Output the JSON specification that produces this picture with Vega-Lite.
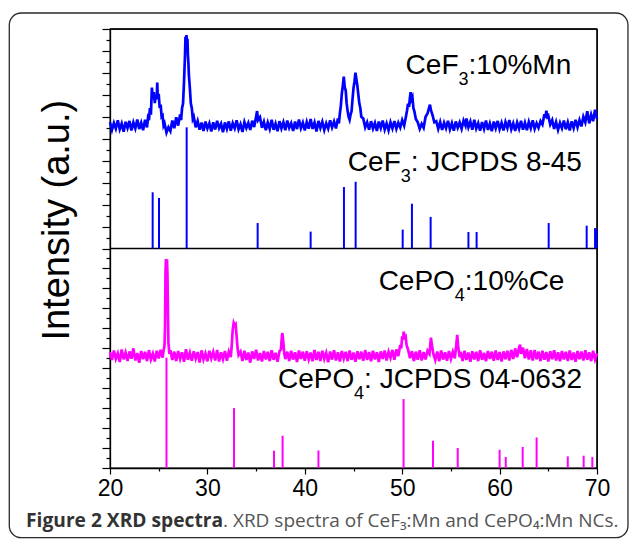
{
"$schema":"https://vega.github.io/schema/vega-lite/v6.json",
"width":487,"height":439,
"autosize":"none",
"padding":{"left":110,"top":29,"right":32,"bottom":72},
"background":"white",
"config":{"view":{"stroke":"black","strokeWidth":1.3},"font":"Liberation Sans"},
"datasets":{
"one":[{"k":"frame"}],
"top":[
{"x":20.0,"y":1.575},{"x":20.2,"y":1.540},{"x":20.4,"y":1.572},{"x":20.6,"y":1.546},{"x":20.8,"y":1.584},{"x":21.0,"y":1.543},{"x":21.2,"y":1.569},{"x":21.4,"y":1.532},{"x":21.6,"y":1.577},{"x":21.8,"y":1.549},
{"x":22.0,"y":1.581},{"x":22.2,"y":1.538},{"x":22.4,"y":1.574},{"x":22.6,"y":1.547},{"x":22.8,"y":1.588},{"x":23.0,"y":1.544},{"x":23.2,"y":1.573},{"x":23.4,"y":1.539},{"x":23.6,"y":1.586},{"x":23.8,"y":1.552},
{"x":23.9,"y":1.595},{"x":24.0,"y":1.585},{"x":24.1,"y":1.640},{"x":24.2,"y":1.610},{"x":24.3,"y":1.733},{"x":24.4,"y":1.680},{"x":24.5,"y":1.712},{"x":24.6,"y":1.662},{"x":24.7,"y":1.700},{"x":24.8,"y":1.680},
{"x":24.85,"y":1.756},{"x":24.9,"y":1.690},{"x":25.0,"y":1.705},{"x":25.1,"y":1.640},{"x":25.2,"y":1.655},{"x":25.3,"y":1.600},{"x":25.4,"y":1.605},{"x":25.5,"y":1.560},{"x":25.6,"y":1.570},{"x":25.8,"y":1.528},
{"x":26.0,"y":1.552},{"x":26.2,"y":1.535},{"x":26.4,"y":1.583},{"x":26.6,"y":1.548},{"x":26.8,"y":1.598},{"x":27.0,"y":1.560},{"x":27.2,"y":1.610},{"x":27.3,"y":1.585},{"x":27.4,"y":1.640},{"x":27.5,"y":1.660},
{"x":27.6,"y":1.760},{"x":27.7,"y":1.880},{"x":27.75,"y":1.965},{"x":27.8,"y":1.930},{"x":27.85,"y":1.972},{"x":27.9,"y":1.940},{"x":27.95,"y":1.955},{"x":28.0,"y":1.880},{"x":28.05,"y":1.845},{"x":28.1,"y":1.790},
{"x":28.2,"y":1.730},{"x":28.3,"y":1.660},{"x":28.4,"y":1.640},{"x":28.5,"y":1.590},{"x":28.6,"y":1.600},{"x":28.8,"y":1.552},{"x":29.0,"y":1.581},{"x":29.2,"y":1.541},{"x":29.4,"y":1.574},{"x":29.6,"y":1.536},
{"x":29.8,"y":1.578},{"x":30.0,"y":1.547},{"x":30.2,"y":1.570},{"x":30.4,"y":1.533},{"x":30.6,"y":1.575},{"x":30.8,"y":1.542},{"x":31.0,"y":1.582},{"x":31.2,"y":1.548},{"x":31.4,"y":1.568},{"x":31.6,"y":1.530},
{"x":31.8,"y":1.574},{"x":32.0,"y":1.545},{"x":32.2,"y":1.579},{"x":32.4,"y":1.537},{"x":32.6,"y":1.571},{"x":32.8,"y":1.548},{"x":33.0,"y":1.584},{"x":33.2,"y":1.543},{"x":33.4,"y":1.566},{"x":33.6,"y":1.531},
{"x":33.8,"y":1.576},{"x":34.0,"y":1.549},{"x":34.2,"y":1.572},{"x":34.4,"y":1.540},{"x":34.6,"y":1.582},{"x":34.8,"y":1.553},{"x":35.0,"y":1.600},{"x":35.1,"y":1.626},{"x":35.2,"y":1.585},{"x":35.4,"y":1.598},
{"x":35.6,"y":1.550},{"x":35.8,"y":1.577},{"x":36.0,"y":1.539},{"x":36.2,"y":1.574},{"x":36.4,"y":1.545},{"x":36.6,"y":1.586},{"x":36.8,"y":1.541},{"x":37.0,"y":1.569},{"x":37.2,"y":1.534},{"x":37.4,"y":1.580},
{"x":37.6,"y":1.547},{"x":37.8,"y":1.575},{"x":38.0,"y":1.539},{"x":38.2,"y":1.583},{"x":38.4,"y":1.550},{"x":38.6,"y":1.571},{"x":38.8,"y":1.536},{"x":39.0,"y":1.578},{"x":39.2,"y":1.544},{"x":39.4,"y":1.588},
{"x":39.6,"y":1.548},{"x":39.8,"y":1.573},{"x":40.0,"y":1.538},{"x":40.2,"y":1.576},{"x":40.4,"y":1.546},{"x":40.6,"y":1.590},{"x":40.8,"y":1.545},{"x":41.0,"y":1.574},{"x":41.2,"y":1.533},{"x":41.4,"y":1.581},
{"x":41.6,"y":1.549},{"x":41.8,"y":1.577},{"x":42.0,"y":1.540},{"x":42.2,"y":1.570},{"x":42.4,"y":1.546},{"x":42.6,"y":1.584},{"x":42.8,"y":1.552},{"x":43.0,"y":1.578},{"x":43.2,"y":1.547},{"x":43.4,"y":1.592},
{"x":43.5,"y":1.570},{"x":43.6,"y":1.615},{"x":43.7,"y":1.650},{"x":43.8,"y":1.705},{"x":43.9,"y":1.740},{"x":44.0,"y":1.783},{"x":44.1,"y":1.735},{"x":44.2,"y":1.720},{"x":44.3,"y":1.660},{"x":44.4,"y":1.625},
{"x":44.5,"y":1.600},{"x":44.6,"y":1.587},{"x":44.7,"y":1.610},{"x":44.8,"y":1.625},{"x":44.9,"y":1.680},{"x":45.0,"y":1.730},{"x":45.1,"y":1.760},{"x":45.2,"y":1.801},{"x":45.3,"y":1.770},{"x":45.4,"y":1.740},
{"x":45.5,"y":1.700},{"x":45.6,"y":1.660},{"x":45.7,"y":1.640},{"x":45.8,"y":1.600},{"x":46.0,"y":1.592},{"x":46.2,"y":1.552},{"x":46.4,"y":1.575},{"x":46.6,"y":1.541},{"x":46.8,"y":1.580},{"x":47.0,"y":1.546},
{"x":47.2,"y":1.572},{"x":47.4,"y":1.536},{"x":47.6,"y":1.578},{"x":47.8,"y":1.549},{"x":48.0,"y":1.583},{"x":48.2,"y":1.542},{"x":48.4,"y":1.570},{"x":48.6,"y":1.538},{"x":48.8,"y":1.575},{"x":49.0,"y":1.547},
{"x":49.2,"y":1.581},{"x":49.4,"y":1.545},{"x":49.6,"y":1.573},{"x":49.8,"y":1.551},{"x":50.0,"y":1.585},{"x":50.2,"y":1.560},{"x":50.4,"y":1.605},{"x":50.5,"y":1.630},{"x":50.6,"y":1.660},{"x":50.7,"y":1.645},
{"x":50.8,"y":1.690},{"x":50.87,"y":1.712},{"x":50.95,"y":1.680},{"x":51.05,"y":1.690},{"x":51.15,"y":1.640},{"x":51.25,"y":1.625},{"x":51.4,"y":1.590},{"x":51.6,"y":1.575},{"x":51.8,"y":1.545},{"x":52.0,"y":1.568},
{"x":52.2,"y":1.550},{"x":52.4,"y":1.600},{"x":52.6,"y":1.615},{"x":52.75,"y":1.640},{"x":52.85,"y":1.655},{"x":52.95,"y":1.630},{"x":53.1,"y":1.610},{"x":53.3,"y":1.575},{"x":53.5,"y":1.580},{"x":53.7,"y":1.545},
{"x":53.9,"y":1.576},{"x":54.1,"y":1.540},{"x":54.3,"y":1.573},{"x":54.5,"y":1.548},{"x":54.7,"y":1.582},{"x":54.9,"y":1.543},{"x":55.1,"y":1.571},{"x":55.3,"y":1.537},{"x":55.5,"y":1.579},{"x":55.7,"y":1.550},
{"x":55.9,"y":1.574},{"x":56.1,"y":1.545},{"x":56.3,"y":1.583},{"x":56.5,"y":1.560},{"x":56.6,"y":1.592},{"x":56.8,"y":1.552},{"x":57.0,"y":1.578},{"x":57.2,"y":1.541},{"x":57.4,"y":1.586},{"x":57.6,"y":1.547},
{"x":57.8,"y":1.571},{"x":58.0,"y":1.537},{"x":58.2,"y":1.576},{"x":58.4,"y":1.545},{"x":58.6,"y":1.583},{"x":58.8,"y":1.540},{"x":59.0,"y":1.569},{"x":59.2,"y":1.534},{"x":59.4,"y":1.578},{"x":59.6,"y":1.548},
{"x":59.8,"y":1.581},{"x":60.0,"y":1.544},{"x":60.2,"y":1.572},{"x":60.4,"y":1.538},{"x":60.6,"y":1.576},{"x":60.8,"y":1.549},{"x":61.0,"y":1.585},{"x":61.2,"y":1.543},{"x":61.4,"y":1.570},{"x":61.6,"y":1.536},
{"x":61.8,"y":1.574},{"x":62.0,"y":1.546},{"x":62.2,"y":1.582},{"x":62.4,"y":1.541},{"x":62.6,"y":1.573},{"x":62.8,"y":1.539},{"x":63.0,"y":1.577},{"x":63.2,"y":1.548},{"x":63.4,"y":1.584},{"x":63.6,"y":1.545},
{"x":63.8,"y":1.571},{"x":64.0,"y":1.550},{"x":64.2,"y":1.580},{"x":64.4,"y":1.565},{"x":64.6,"y":1.612},{"x":64.7,"y":1.595},{"x":64.8,"y":1.628},{"x":64.9,"y":1.600},{"x":65.0,"y":1.605},{"x":65.2,"y":1.565},
{"x":65.4,"y":1.585},{"x":65.6,"y":1.545},{"x":65.8,"y":1.576},{"x":66.0,"y":1.540},{"x":66.2,"y":1.572},{"x":66.4,"y":1.548},{"x":66.6,"y":1.583},{"x":66.8,"y":1.543},{"x":67.0,"y":1.575},{"x":67.2,"y":1.538},
{"x":67.4,"y":1.579},{"x":67.6,"y":1.549},{"x":67.8,"y":1.586},{"x":68.0,"y":1.552},{"x":68.2,"y":1.585},{"x":68.4,"y":1.556},{"x":68.6,"y":1.600},{"x":68.8,"y":1.575},{"x":69.0,"y":1.625},{"x":69.2,"y":1.570},
{"x":69.4,"y":1.610},{"x":69.6,"y":1.580},{"x":69.8,"y":1.632},{"x":70.0,"y":1.590}
],
"bot":[
{"x":20.0,"y":0.528},{"x":20.2,"y":0.492},{"x":20.4,"y":0.535},{"x":20.6,"y":0.497},{"x":20.8,"y":0.522},{"x":21.0,"y":0.483},{"x":21.2,"y":0.540},{"x":21.4,"y":0.495},{"x":21.6,"y":0.526},{"x":21.8,"y":0.488},
{"x":22.0,"y":0.531},{"x":22.2,"y":0.498},{"x":22.4,"y":0.545},{"x":22.6,"y":0.490},{"x":22.8,"y":0.524},{"x":23.0,"y":0.479},{"x":23.2,"y":0.533},{"x":23.4,"y":0.496},{"x":23.6,"y":0.529},{"x":23.8,"y":0.487},
{"x":24.0,"y":0.537},{"x":24.2,"y":0.494},{"x":24.4,"y":0.521},{"x":24.6,"y":0.485},{"x":24.8,"y":0.534},{"x":25.0,"y":0.499},{"x":25.2,"y":0.538},{"x":25.4,"y":0.503},{"x":25.5,"y":0.535},{"x":25.6,"y":0.560},
{"x":25.65,"y":0.640},{"x":25.7,"y":0.900},{"x":25.75,"y":0.952},{"x":25.8,"y":0.945},{"x":25.85,"y":0.950},{"x":25.9,"y":0.880},{"x":25.95,"y":0.700},{"x":26.0,"y":0.570},{"x":26.1,"y":0.520},{"x":26.2,"y":0.536},
{"x":26.4,"y":0.492},{"x":26.6,"y":0.530},{"x":26.8,"y":0.487},{"x":27.0,"y":0.533},{"x":27.2,"y":0.497},{"x":27.4,"y":0.527},{"x":27.6,"y":0.484},{"x":27.8,"y":0.541},{"x":28.0,"y":0.493},{"x":28.2,"y":0.525},
{"x":28.4,"y":0.489},{"x":28.6,"y":0.532},{"x":28.8,"y":0.498},{"x":29.0,"y":0.528},{"x":29.2,"y":0.481},{"x":29.4,"y":0.536},{"x":29.6,"y":0.494},{"x":29.8,"y":0.522},{"x":30.0,"y":0.486},{"x":30.2,"y":0.534},
{"x":30.4,"y":0.500},{"x":30.6,"y":0.529},{"x":30.8,"y":0.490},{"x":31.0,"y":0.538},{"x":31.2,"y":0.485},{"x":31.4,"y":0.527},{"x":31.6,"y":0.496},{"x":31.8,"y":0.533},{"x":32.0,"y":0.489},{"x":32.2,"y":0.530},
{"x":32.4,"y":0.505},{"x":32.5,"y":0.560},{"x":32.6,"y":0.630},{"x":32.7,"y":0.661},{"x":32.8,"y":0.650},{"x":32.9,"y":0.655},{"x":33.0,"y":0.600},{"x":33.1,"y":0.545},{"x":33.2,"y":0.515},{"x":33.4,"y":0.530},
{"x":33.6,"y":0.488},{"x":33.8,"y":0.534},{"x":34.0,"y":0.492},{"x":34.2,"y":0.526},{"x":34.4,"y":0.480},{"x":34.6,"y":0.531},{"x":34.8,"y":0.497},{"x":35.0,"y":0.539},{"x":35.2,"y":0.490},{"x":35.4,"y":0.524},
{"x":35.6,"y":0.485},{"x":35.8,"y":0.533},{"x":36.0,"y":0.495},{"x":36.2,"y":0.529},{"x":36.4,"y":0.487},{"x":36.6,"y":0.536},{"x":36.8,"y":0.493},{"x":37.0,"y":0.525},{"x":37.2,"y":0.484},{"x":37.4,"y":0.532},
{"x":37.55,"y":0.540},{"x":37.65,"y":0.600},{"x":37.7,"y":0.615},{"x":37.8,"y":0.570},{"x":37.9,"y":0.520},{"x":38.0,"y":0.496},{"x":38.2,"y":0.530},{"x":38.4,"y":0.488},{"x":38.6,"y":0.534},{"x":38.8,"y":0.494},
{"x":39.0,"y":0.527},{"x":39.2,"y":0.483},{"x":39.4,"y":0.535},{"x":39.6,"y":0.497},{"x":39.8,"y":0.530},{"x":40.0,"y":0.489},{"x":40.2,"y":0.532},{"x":40.4,"y":0.495},{"x":40.6,"y":0.526},{"x":40.8,"y":0.486},
{"x":41.0,"y":0.538},{"x":41.2,"y":0.492},{"x":41.4,"y":0.529},{"x":41.6,"y":0.488},{"x":41.8,"y":0.534},{"x":42.0,"y":0.497},{"x":42.2,"y":0.525},{"x":42.4,"y":0.482},{"x":42.6,"y":0.531},{"x":42.8,"y":0.494},
{"x":43.0,"y":0.536},{"x":43.2,"y":0.490},{"x":43.4,"y":0.527},{"x":43.6,"y":0.485},{"x":43.8,"y":0.533},{"x":44.0,"y":0.498},{"x":44.2,"y":0.529},{"x":44.4,"y":0.487},{"x":44.6,"y":0.535},{"x":44.8,"y":0.493},
{"x":45.0,"y":0.526},{"x":45.2,"y":0.484},{"x":45.4,"y":0.532},{"x":45.6,"y":0.496},{"x":45.8,"y":0.530},{"x":46.0,"y":0.489},{"x":46.2,"y":0.537},{"x":46.4,"y":0.492},{"x":46.6,"y":0.528},{"x":46.8,"y":0.486},
{"x":47.0,"y":0.534},{"x":47.2,"y":0.495},{"x":47.4,"y":0.527},{"x":47.6,"y":0.483},{"x":47.8,"y":0.531},{"x":48.0,"y":0.497},{"x":48.2,"y":0.535},{"x":48.4,"y":0.490},{"x":48.6,"y":0.529},{"x":48.8,"y":0.502},
{"x":49.0,"y":0.538},{"x":49.2,"y":0.493},{"x":49.4,"y":0.540},{"x":49.6,"y":0.510},{"x":49.8,"y":0.560},{"x":49.9,"y":0.545},{"x":50.0,"y":0.600},{"x":50.1,"y":0.585},{"x":50.15,"y":0.621},{"x":50.25,"y":0.595},
{"x":50.35,"y":0.600},{"x":50.45,"y":0.560},{"x":50.6,"y":0.540},{"x":50.8,"y":0.500},{"x":51.0,"y":0.532},{"x":51.2,"y":0.487},{"x":51.4,"y":0.530},{"x":51.6,"y":0.493},{"x":51.8,"y":0.536},{"x":52.0,"y":0.490},
{"x":52.2,"y":0.528},{"x":52.4,"y":0.495},{"x":52.6,"y":0.534},{"x":52.8,"y":0.520},{"x":52.95,"y":0.594},{"x":53.05,"y":0.560},{"x":53.2,"y":0.520},{"x":53.4,"y":0.492},{"x":53.6,"y":0.531},{"x":53.8,"y":0.486},
{"x":54.0,"y":0.535},{"x":54.2,"y":0.494},{"x":54.4,"y":0.527},{"x":54.6,"y":0.489},{"x":54.8,"y":0.533},{"x":55.0,"y":0.497},{"x":55.2,"y":0.529},{"x":55.4,"y":0.500},{"x":55.55,"y":0.560},{"x":55.65,"y":0.607},
{"x":55.75,"y":0.550},{"x":55.9,"y":0.505},{"x":56.0,"y":0.530},{"x":56.2,"y":0.488},{"x":56.4,"y":0.534},{"x":56.6,"y":0.492},{"x":56.8,"y":0.526},{"x":57.0,"y":0.484},{"x":57.2,"y":0.532},{"x":57.4,"y":0.495},
{"x":57.6,"y":0.529},{"x":57.8,"y":0.487},{"x":58.0,"y":0.536},{"x":58.2,"y":0.493},{"x":58.4,"y":0.525},{"x":58.6,"y":0.486},{"x":58.8,"y":0.533},{"x":59.0,"y":0.497},{"x":59.2,"y":0.530},{"x":59.4,"y":0.489},
{"x":59.6,"y":0.535},{"x":59.8,"y":0.492},{"x":60.0,"y":0.528},{"x":60.2,"y":0.485},{"x":60.4,"y":0.531},{"x":60.6,"y":0.496},{"x":60.8,"y":0.534},{"x":61.0,"y":0.490},{"x":61.2,"y":0.538},{"x":61.4,"y":0.497},
{"x":61.6,"y":0.545},{"x":61.8,"y":0.505},{"x":62.0,"y":0.550},{"x":62.1,"y":0.562},{"x":62.2,"y":0.520},{"x":62.4,"y":0.548},{"x":62.6,"y":0.500},{"x":62.8,"y":0.542},{"x":63.0,"y":0.494},{"x":63.2,"y":0.536},
{"x":63.4,"y":0.490},{"x":63.6,"y":0.538},{"x":63.8,"y":0.496},{"x":64.0,"y":0.530},{"x":64.2,"y":0.487},{"x":64.4,"y":0.534},{"x":64.6,"y":0.493},{"x":64.8,"y":0.528},{"x":65.0,"y":0.485},{"x":65.2,"y":0.532},
{"x":65.4,"y":0.496},{"x":65.6,"y":0.536},{"x":65.8,"y":0.490},{"x":66.0,"y":0.527},{"x":66.2,"y":0.486},{"x":66.4,"y":0.533},{"x":66.6,"y":0.495},{"x":66.8,"y":0.529},{"x":67.0,"y":0.488},{"x":67.2,"y":0.535},
{"x":67.4,"y":0.492},{"x":67.6,"y":0.526},{"x":67.8,"y":0.484},{"x":68.0,"y":0.533},{"x":68.2,"y":0.496},{"x":68.4,"y":0.530},{"x":68.6,"y":0.490},{"x":68.8,"y":0.536},{"x":69.0,"y":0.493},{"x":69.2,"y":0.527},
{"x":69.4,"y":0.487},{"x":69.6,"y":0.534},{"x":69.8,"y":0.495},{"x":70.0,"y":0.522}
],
"tref":[
{"x":24.38,"y":1.256,"y2":1},{"x":25.03,"y":1.230,"y2":1},{"x":27.87,"y":1.552,"y2":1},{"x":35.16,"y":1.116,"y2":1},{"x":40.6,"y":1.077,"y2":1},{"x":44.02,"y":1.280,"y2":1},{"x":45.22,"y":1.304,"y2":1},{"x":50.05,"y":1.086,"y2":1},{"x":51.0,"y":1.204,"y2":1},{"x":52.92,"y":1.144,"y2":1},{"x":56.8,"y":1.075,"y2":1},{"x":57.64,"y":1.075,"y2":1},{"x":65.04,"y":1.116,"y2":1},{"x":68.94,"y":1.104,"y2":1},{"x":69.8,"y":1.093,"y2":1},{"x":69.95,"y":1.086,"y2":1}
],
"bref":[
{"x":25.8,"y":0.5025,"y2":0},{"x":32.73,"y":0.273,"y2":0},{"x":36.84,"y":0.079,"y2":0},{"x":37.72,"y":0.147,"y2":0},{"x":41.4,"y":0.080,"y2":0},{"x":50.14,"y":0.314,"y2":0},{"x":53.16,"y":0.124,"y2":0},{"x":55.7,"y":0.091,"y2":0},{"x":60.0,"y":0.083,"y2":0},{"x":60.63,"y":0.050,"y2":0},{"x":62.37,"y":0.096,"y2":0},{"x":63.8,"y":0.139,"y2":0},{"x":67.0,"y":0.053,"y2":0},{"x":68.63,"y":0.056,"y2":0},{"x":69.52,"y":0.050,"y2":0}
],
"labels":[
{"x":50.35,"y":1.796,"t":"CeF","k":"main"},{"x":55.78,"y":1.796,"t":"3","k":"sub"},{"x":56.81,"y":1.796,"t":":10%Mn","k":"main"},
{"x":44.42,"y":1.3545,"t":"CeF","k":"main"},{"x":49.85,"y":1.3545,"t":"3","k":"sub"},{"x":50.88,"y":1.3545,"t":": JCPDS 8-45","k":"main"},
{"x":47.58,"y":0.809,"t":"CePO","k":"main"},{"x":55.40,"y":0.809,"t":"4","k":"sub"},{"x":56.43,"y":0.809,"t":":10%Ce","k":"main"},
{"x":37.24,"y":0.3645,"t":"CePO","k":"main"},{"x":45.06,"y":0.3645,"t":"4","k":"sub"},{"x":46.09,"y":0.3645,"t":": JCPDS 04-0632","k":"main"}
],
"cap":[
{"x":11.38,"y":-0.2688,"t":"Figure 2 XRD spectra","k":"bold"},
{"x":31.6,"y":-0.2688,"t":". XRD spectra of CeF₃:Mn and CePO₄:Mn NCs.","k":"reg"}
]
},
"layer":[
{"data":{"name":"one"},"mark":{"type":"rect","fill":"transparent","stroke":"#2a2a2a","strokeWidth":1.3,"cornerRadius":12},
"encoding":{
"x":{"datum":9.66,"type":"quantitative","scale":{"domain":[20,70],"nice":false,"zero":false},"axis":{"title":null,"grid":false,"values":[20,25,30,35,40,45,50,55,60,65,70],"labelExpr":"datum.value % 10 == 0 ? datum.label : ''","tickSize":{"condition":{"test":"(datum.value % 10 == 0)","value":6},"value":3},"labelFont":"Liberation Sans","labelFontSize":23,"labelColor":"black","labelPadding":3,"labelOverlap":false,"labelFlush":false,"tickColor":"black","domainColor":"black","domainWidth":1.3,"tickWidth":1.2}},
"x2":{"datum":73.18},
"y":{"datum":2.073,"type":"quantitative","scale":{"domain":[0,2],"nice":false,"zero":false},"axis":{"title":"Intensity (a.u.)","grid":false,"labels":false,"values":[0,0.0455,0.0909,0.1364,0.1818,0.2273,0.2727,0.3182,0.3636,0.4091,0.4545,0.5,0.5455,0.5909,0.6364,0.6818,0.7273,0.7727,0.8182,0.8636,0.9091,0.9545,1,1.05,1.1,1.15,1.2,1.25,1.3,1.35,1.4,1.45,1.5,1.55,1.6,1.65,1.7,1.75,1.8,1.85,1.9,1.95,2],"tickSize":{"condition":{"test":"((datum.value >= 0.999) ? (round((datum.value-1)*20) % 2 == 0) : (round(datum.value*22) % 2 == 0))","value":8},"value":4},"tickColor":"black","domainColor":"black","domainWidth":1.3,"tickWidth":1.2,"titleFont":"Liberation Sans","titleFontSize":38,"titleFontWeight":"normal","titleColor":"black","titleAngle":270,"titleAlign":"center","titleBaseline":"alphabetic","titleX":-42,"titleY":190.7}},
"y2":{"datum":-0.3175}}},
{"data":{"name":"one"},"mark":{"type":"rule","color":"black","strokeWidth":1.3},
"encoding":{
"y":{"datum":1,"type":"quantitative","scale":{"domain":[0,2],"nice":false,"zero":false},"axis":{"title":"Intensity (a.u.)","grid":false,"labels":false,"values":[0,0.0455,0.0909,0.1364,0.1818,0.2273,0.2727,0.3182,0.3636,0.4091,0.4545,0.5,0.5455,0.5909,0.6364,0.6818,0.7273,0.7727,0.8182,0.8636,0.9091,0.9545,1,1.05,1.1,1.15,1.2,1.25,1.3,1.35,1.4,1.45,1.5,1.55,1.6,1.65,1.7,1.75,1.8,1.85,1.9,1.95,2],"tickSize":{"condition":{"test":"((datum.value >= 0.999) ? (round((datum.value-1)*20) % 2 == 0) : (round(datum.value*22) % 2 == 0))","value":8},"value":4},"tickColor":"black","domainColor":"black","domainWidth":1.3,"tickWidth":1.2,"titleFont":"Liberation Sans","titleFontSize":38,"titleFontWeight":"normal","titleColor":"black","titleAngle":270,"titleAlign":"center","titleBaseline":"alphabetic","titleX":-42,"titleY":190.7}},
"x":{"datum":20,"type":"quantitative","scale":{"domain":[20,70],"nice":false,"zero":false},"axis":{"title":null,"grid":false,"values":[20,25,30,35,40,45,50,55,60,65,70],"labelExpr":"datum.value % 10 == 0 ? datum.label : ''","tickSize":{"condition":{"test":"(datum.value % 10 == 0)","value":6},"value":3},"labelFont":"Liberation Sans","labelFontSize":23,"labelColor":"black","labelPadding":3,"labelOverlap":false,"labelFlush":false,"tickColor":"black","domainColor":"black","domainWidth":1.3,"tickWidth":1.2}},
"x2":{"datum":70}}},
{"data":{"name":"one"},"mark":{"type":"rule","color":"black","strokeWidth":1.3},
"encoding":{
"y":{"datum":2,"type":"quantitative","scale":{"domain":[0,2],"nice":false,"zero":false},"axis":{"title":"Intensity (a.u.)","grid":false,"labels":false,"values":[0,0.0455,0.0909,0.1364,0.1818,0.2273,0.2727,0.3182,0.3636,0.4091,0.4545,0.5,0.5455,0.5909,0.6364,0.6818,0.7273,0.7727,0.8182,0.8636,0.9091,0.9545,1,1.05,1.1,1.15,1.2,1.25,1.3,1.35,1.4,1.45,1.5,1.55,1.6,1.65,1.7,1.75,1.8,1.85,1.9,1.95,2],"tickSize":{"condition":{"test":"((datum.value >= 0.999) ? (round((datum.value-1)*20) % 2 == 0) : (round(datum.value*22) % 2 == 0))","value":8},"value":4},"tickColor":"black","domainColor":"black","domainWidth":1.3,"tickWidth":1.2,"titleFont":"Liberation Sans","titleFontSize":38,"titleFontWeight":"normal","titleColor":"black","titleAngle":270,"titleAlign":"center","titleBaseline":"alphabetic","titleX":-42,"titleY":190.7}},
"x":{"datum":20,"type":"quantitative","scale":{"domain":[20,70],"nice":false,"zero":false},"axis":{"title":null,"grid":false,"values":[20,25,30,35,40,45,50,55,60,65,70],"labelExpr":"datum.value % 10 == 0 ? datum.label : ''","tickSize":{"condition":{"test":"(datum.value % 10 == 0)","value":6},"value":3},"labelFont":"Liberation Sans","labelFontSize":23,"labelColor":"black","labelPadding":3,"labelOverlap":false,"labelFlush":false,"tickColor":"black","domainColor":"black","domainWidth":1.3,"tickWidth":1.2}},
"x2":{"datum":70}}},
{"data":{"name":"one"},"mark":{"type":"rule","color":"black","strokeWidth":1.3},
"encoding":{
"x":{"datum":70,"type":"quantitative","scale":{"domain":[20,70],"nice":false,"zero":false},"axis":{"title":null,"grid":false,"values":[20,25,30,35,40,45,50,55,60,65,70],"labelExpr":"datum.value % 10 == 0 ? datum.label : ''","tickSize":{"condition":{"test":"(datum.value % 10 == 0)","value":6},"value":3},"labelFont":"Liberation Sans","labelFontSize":23,"labelColor":"black","labelPadding":3,"labelOverlap":false,"labelFlush":false,"tickColor":"black","domainColor":"black","domainWidth":1.3,"tickWidth":1.2}},
"y":{"datum":0,"type":"quantitative","scale":{"domain":[0,2],"nice":false,"zero":false},"axis":{"title":"Intensity (a.u.)","grid":false,"labels":false,"values":[0,0.0455,0.0909,0.1364,0.1818,0.2273,0.2727,0.3182,0.3636,0.4091,0.4545,0.5,0.5455,0.5909,0.6364,0.6818,0.7273,0.7727,0.8182,0.8636,0.9091,0.9545,1,1.05,1.1,1.15,1.2,1.25,1.3,1.35,1.4,1.45,1.5,1.55,1.6,1.65,1.7,1.75,1.8,1.85,1.9,1.95,2],"tickSize":{"condition":{"test":"((datum.value >= 0.999) ? (round((datum.value-1)*20) % 2 == 0) : (round(datum.value*22) % 2 == 0))","value":8},"value":4},"tickColor":"black","domainColor":"black","domainWidth":1.3,"tickWidth":1.2,"titleFont":"Liberation Sans","titleFontSize":38,"titleFontWeight":"normal","titleColor":"black","titleAngle":270,"titleAlign":"center","titleBaseline":"alphabetic","titleX":-42,"titleY":190.7}},
"y2":{"datum":2}}},
{"encoding":{
"x":{"field":"x","type":"quantitative","scale":{"domain":[20,70],"nice":false,"zero":false},"axis":{"title":null,"grid":false,"values":[20,25,30,35,40,45,50,55,60,65,70],"labelExpr":"datum.value % 10 == 0 ? datum.label : ''","tickSize":{"condition":{"test":"(datum.value % 10 == 0)","value":6},"value":3},"labelFont":"Liberation Sans","labelFontSize":23,"labelColor":"black","labelPadding":3,"labelOverlap":false,"labelFlush":false,"tickColor":"black","domainColor":"black","domainWidth":1.3,"tickWidth":1.2}},
"y":{"field":"y","type":"quantitative","scale":{"domain":[0,2],"nice":false,"zero":false},"axis":{"title":"Intensity (a.u.)","grid":false,"labels":false,"values":[0,0.0455,0.0909,0.1364,0.1818,0.2273,0.2727,0.3182,0.3636,0.4091,0.4545,0.5,0.5455,0.5909,0.6364,0.6818,0.7273,0.7727,0.8182,0.8636,0.9091,0.9545,1,1.05,1.1,1.15,1.2,1.25,1.3,1.35,1.4,1.45,1.5,1.55,1.6,1.65,1.7,1.75,1.8,1.85,1.9,1.95,2],"tickSize":{"condition":{"test":"((datum.value >= 0.999) ? (round((datum.value-1)*20) % 2 == 0) : (round(datum.value*22) % 2 == 0))","value":8},"value":4},"tickColor":"black","domainColor":"black","domainWidth":1.3,"tickWidth":1.2,"titleFont":"Liberation Sans","titleFontSize":38,"titleFontWeight":"normal","titleColor":"black","titleAngle":270,"titleAlign":"center","titleBaseline":"alphabetic","titleX":-42,"titleY":190.7}}},
"layer":[
{"data":{"name":"tref"},"mark":{"type":"rule","color":"#0000ff","strokeWidth":2},"encoding":{"y2":{"field":"y2"}}},
{"data":{"name":"bref"},"mark":{"type":"rule","color":"#ff00ff","strokeWidth":2},"encoding":{"y2":{"field":"y2"}}},
{"data":{"name":"top"},"mark":{"type":"line","color":"#0000ff","strokeWidth":2.7}},
{"data":{"name":"bot"},"mark":{"type":"line","color":"#ff00ff","strokeWidth":2.7}},
{"data":{"name":"labels"},"transform":[{"filter":"datum.k == 'main'"}],"mark":{"type":"text","align":"left","baseline":"alphabetic","font":"Liberation Sans","fontSize":28,"color":"black"},"encoding":{"text":{"field":"t"}}},
{"data":{"name":"labels"},"transform":[{"filter":"datum.k == 'sub'"}],"mark":{"type":"text","align":"left","baseline":"alphabetic","font":"Liberation Sans","fontSize":18,"dy":11,"color":"black"},"encoding":{"text":{"field":"t"}}},
{"data":{"name":"cap"},"transform":[{"filter":"datum.k == 'bold'"}],"mark":{"type":"text","align":"left","baseline":"alphabetic","font":"Open Sans","fontSize":19.2,"fontWeight":"bold","color":"#333333"},"encoding":{"text":{"field":"t"}}},
{"data":{"name":"cap"},"transform":[{"filter":"datum.k == 'reg'"}],"mark":{"type":"text","align":"left","baseline":"alphabetic","font":"Open Sans","fontSize":19,"color":"#555555"},"encoding":{"text":{"field":"t"}}}
]}
]
}
